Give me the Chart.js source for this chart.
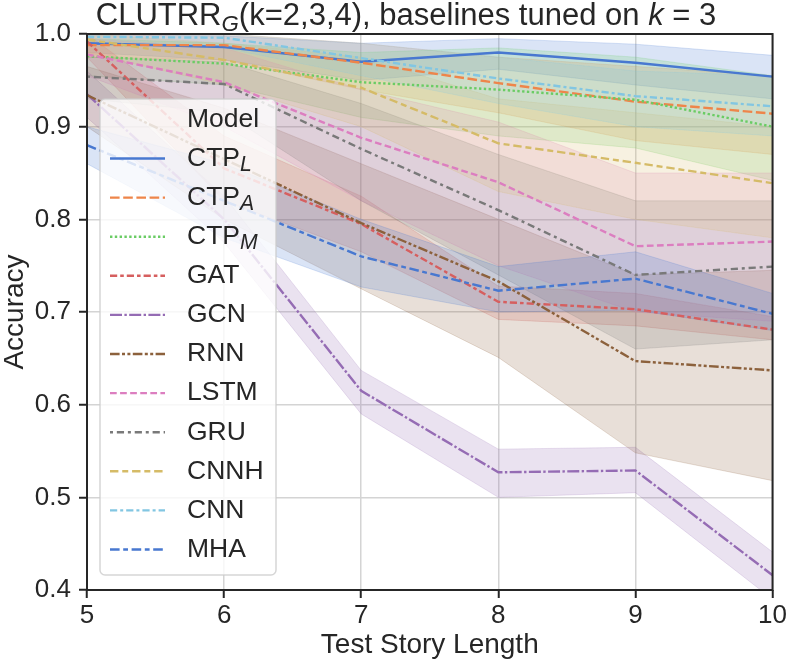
<!DOCTYPE html>
<html>
<head>
<meta charset="utf-8">
<script src="https://cdn.jsdelivr.net/npm/chart.js@4.4.0/dist/chart.umd.min.js"></script>
<style>
html, body { margin: 0; padding: 0; background: #fff; }
canvas { display: block; }
</style>
</head>
<body>
<canvas id="accuracyChart" width="789" height="664"></canvas>
<script>
// test story lengths on the x axis
var storyLength = [5, 6, 7, 8, 9, 10];
var yTicks = [0.4, 0.5, 0.6, 0.7, 0.8, 0.9, 1.0];
var modelLabels = ['CTP_L', 'CTP_A', 'CTP_M', 'GAT', 'GCN', 'RNN', 'LSTM', 'GRU', 'CNNH', 'CNN', 'MHA'];

// mean accuracy and the shaded band (low / high) per model
var ctpLMean = [0.990, 0.986, 0.970, 0.980, 0.969, 0.954];
var ctpLLow  = [0.980, 0.972, 0.950, 0.962, 0.945, 0.930];
var ctpLHigh = [0.999, 0.998, 0.990, 0.995, 0.989, 0.977];

var ctpAMean = [0.988, 0.988, 0.969, 0.947, 0.927, 0.914];
var ctpALow  = [0.975, 0.972, 0.940, 0.915, 0.885, 0.870];
var ctpAHigh = [0.998, 1.000, 0.990, 0.975, 0.965, 0.955];

var ctpMMean = [0.976, 0.968, 0.948, 0.940, 0.929, 0.900];
var ctpMLow  = [0.955, 0.945, 0.910, 0.890, 0.877, 0.842];
var ctpMHigh = [0.995, 0.990, 0.980, 0.985, 0.975, 0.955];

var gatMean = [0.992, 0.855, 0.795, 0.711, 0.703, 0.681];
var gatLow  = [0.975, 0.820, 0.765, 0.692, 0.685, 0.670];
var gatHigh = [1.000, 0.890, 0.825, 0.728, 0.720, 0.695];

var gcnMean = [0.935, 0.800, 0.615, 0.527, 0.529, 0.416];
var gcnLow  = [0.910, 0.775, 0.590, 0.500, 0.505, 0.390];
var gcnHigh = [0.960, 0.825, 0.637, 0.552, 0.554, 0.441];

var rnnMean = [0.934, 0.865, 0.796, 0.733, 0.647, 0.637];
var rnnLow  = [0.900, 0.800, 0.725, 0.651, 0.548, 0.518];
var rnnHigh = [0.965, 0.920, 0.860, 0.800, 0.740, 0.745];

var lstmMean = [0.978, 0.948, 0.888, 0.840, 0.771, 0.776];
var lstmLow  = [0.955, 0.900, 0.820, 0.750, 0.700, 0.690];
var lstmHigh = [0.995, 0.985, 0.940, 0.905, 0.850, 0.850];

var gruMean = [0.954, 0.946, 0.876, 0.810, 0.740, 0.749];
var gruLow  = [0.930, 0.915, 0.820, 0.740, 0.660, 0.670];
var gruHigh = [0.975, 0.970, 0.925, 0.870, 0.820, 0.820];

var cnnhMean = [0.994, 0.972, 0.942, 0.882, 0.861, 0.839];
var cnnhLow  = [0.980, 0.945, 0.900, 0.830, 0.800, 0.780];
var cnnhHigh = [1.000, 0.990, 0.975, 0.930, 0.915, 0.900];

var cnnMean = [0.997, 0.996, 0.974, 0.952, 0.933, 0.922];
var cnnLow  = [0.990, 0.985, 0.955, 0.925, 0.900, 0.890];
var cnnHigh = [1.000, 1.000, 0.990, 0.975, 0.960, 0.955];

var mhaMean = [0.880, 0.820, 0.760, 0.723, 0.736, 0.698];
var mhaLow  = [0.860, 0.780, 0.727, 0.700, 0.702, 0.680];
var mhaHigh = [0.900, 0.860, 0.800, 0.749, 0.765, 0.720];

var series = [
    [ctpLMean, ctpLLow, ctpLHigh],
    [ctpAMean, ctpALow, ctpAHigh],
    [ctpMMean, ctpMLow, ctpMHigh],
    [gatMean, gatLow, gatHigh],
    [gcnMean, gcnLow, gcnHigh],
    [rnnMean, rnnLow, rnnHigh],
    [lstmMean, lstmLow, lstmHigh],
    [gruMean, gruLow, gruHigh],
    [cnnhMean, cnnhLow, cnnhHigh],
    [cnnMean, cnnLow, cnnHigh],
    [mhaMean, mhaLow, mhaHigh]
];

// seaborn "muted" palette, dash patterns given in line widths
var colors = ['#4878d0', '#ee854a', '#6acc64', '#d65f5f', '#956cb4', '#8c613c',
              '#dc7ec0', '#797979', '#d5bb67', '#82c6e2', '#4878d0'];
var dashes = [
    [], [4, 1.5], [1, 1], [3, 1.25, 1.5, 1.25], [5, 1, 1, 1],
    [4, 1, 1.25, 1, 1.25, 1], [2.8, 1.4],
    [1.25, 1.6, 3, 1.6], [3.5, 1.6, 2.5, 1.6],
    [3, 1.25, 1.25, 1.25], [4, 1.5, 2, 1.5]
];

var lineWidth = 2.4;
var fontFamily = '"Liberation Sans", Arial, Helvetica, sans-serif';
var textColor = '#262626';

function rgba(hex, a) {
    var r = parseInt(hex.substr(1, 2), 16);
    var g = parseInt(hex.substr(3, 2), 16);
    var b = parseInt(hex.substr(5, 2), 16);
    return 'rgba(' + r + ',' + g + ',' + b + ',' + a + ')';
}

function toPoints(values) {
    return storyLength.map(function (x, i) {
        return { x: x, y: values[i] };
    });
}

function scaledDash(d) {
    return d.map(function (v) { return v * lineWidth; });
}

var datasets = [];
// bands first so that "+1" points to the matching low edge
for (let i = 0; i < modelLabels.length; i++) {
    datasets.push({
        label: modelLabels[i] + ' high',
        data: toPoints(series[i][2]),
        borderColor: rgba(colors[i], 0.2),
        backgroundColor: rgba(colors[i], 0.2),
        borderWidth: 1,
        pointRadius: 0,
        fill: '+1',
        order: 200 - i
    });
    datasets.push({
        label: modelLabels[i] + ' low',
        data: toPoints(series[i][1]),
        borderColor: rgba(colors[i], 0.2),
        borderWidth: 1,
        pointRadius: 0,
        fill: false,
        order: 200 - i
    });
}
for (let i = 0; i < modelLabels.length; i++) {
    datasets.push({
        label: modelLabels[i],
        data: toPoints(series[i][0]),
        borderColor: colors[i],
        borderWidth: lineWidth,
        borderDash: scaledDash(dashes[i]),
        pointRadius: 0,
        fill: false,
        order: 100 - i,
        isMean: true
    });
}

function drawSubLabel(ctx, text, x, y, size) {
    var parts = text.split('_');
    ctx.font = size + 'px ' + fontFamily;
    ctx.fillText(parts[0], x, y);
    if (parts[1]) {
        var w = ctx.measureText(parts[0]).width;
        ctx.font = 'italic ' + (size * 0.8) + 'px ' + fontFamily;
        ctx.fillText(parts[1], x + w, y + size * 0.25);
    }
}

var framePlugin = {
    id: 'frame',
    afterDatasetsDraw: function (chart) {
        var ctx = chart.ctx;
        var a = chart.chartArea;
        ctx.save();
        ctx.strokeStyle = textColor;
        ctx.lineWidth = 2;
        ctx.strokeRect(a.left, a.top, a.right - a.left, a.bottom - a.top);
        ctx.restore();
    }
};

var titlePlugin = {
    id: 'mathTitle',
    afterDraw: function (chart) {
        var ctx = chart.ctx;
        var size = 31;
        ctx.save();
        ctx.fillStyle = textColor;
        ctx.textBaseline = 'alphabetic';
        ctx.textAlign = 'left';
        var pieces = [
            { t: 'CLUTRR', f: size + 'px ' + fontFamily, dy: 0 },
            { t: 'G', f: 'italic ' + (size * 0.72) + 'px ' + fontFamily, dy: size * 0.2 },
            { t: '(k=2,3,4), baselines tuned on ', f: size + 'px ' + fontFamily, dy: 0 },
            { t: 'k', f: 'italic ' + size + 'px ' + fontFamily, dy: 0 },
            { t: ' = 3', f: size + 'px ' + fontFamily, dy: 0 }
        ];
        var total = 0;
        pieces.forEach(function (p) {
            ctx.font = p.f;
            p.w = ctx.measureText(p.t).width;
            total += p.w;
        });
        var x = 406 - total / 2;
        pieces.forEach(function (p) {
            ctx.font = p.f;
            ctx.fillText(p.t, x, 25 + p.dy);
            x += p.w;
        });
        ctx.restore();
    }
};

var legendPlugin = {
    id: 'boxLegend',
    afterDraw: function (chart) {
        var ctx = chart.ctx;
        var left = 100, top = 99, right = 276, bottom = 575, r = 5;
        ctx.save();
        ctx.beginPath();
        ctx.moveTo(left + r, top);
        ctx.arcTo(right, top, right, bottom, r);
        ctx.arcTo(right, bottom, left, bottom, r);
        ctx.arcTo(left, bottom, left, top, r);
        ctx.arcTo(left, top, right, top, r);
        ctx.closePath();
        ctx.fillStyle = 'rgba(255,255,255,0.8)';
        ctx.fill();
        ctx.strokeStyle = 'rgba(204,204,204,0.8)';
        ctx.lineWidth = 1.5;
        ctx.stroke();

        var size = 26.5;
        ctx.fillStyle = textColor;
        ctx.textBaseline = 'middle';
        ctx.textAlign = 'left';
        ctx.font = size + 'px ' + fontFamily;
        ctx.fillText('Model', 187, 120);

        var means = chart.data.datasets.filter(function (d) { return d.isMean; });
        means.forEach(function (d, i) {
            var y = 158.5 + i * 39.1;
            ctx.beginPath();
            ctx.setLineDash(d.borderDash);
            ctx.strokeStyle = d.borderColor;
            ctx.lineWidth = d.borderWidth;
            ctx.moveTo(110, y);
            ctx.lineTo(165, y);
            ctx.stroke();
            ctx.setLineDash([]);
            ctx.fillStyle = textColor;
            drawSubLabel(ctx, d.label, 187, y, size);
        });
        ctx.restore();
    }
};

const ctx = document.getElementById('accuracyChart');
const accuracyChart = new Chart(ctx, {
    type: 'line',
    data: { datasets: datasets },
    options: {
        responsive: false,
        animation: false,
        layout: { padding: { top: 34, right: 15, bottom: 0, left: 0 } },
        plugins: {
            legend: { display: false },
            tooltip: { enabled: false },
            title: { display: false }
        },
        elements: { line: { tension: 0 } },
        scales: {
            x: {
                type: 'linear',
                min: 5,
                max: 10,
                ticks: {
                    stepSize: 1,
                    color: textColor,
                    padding: 2,
                    font: { family: fontFamily, size: 26 }
                },
                grid: {
                    color: '#d4d4d4',
                    lineWidth: 1.5,
                    tickLength: 8,
                    tickColor: textColor,
                    tickWidth: 2
                },
                border: { display: false },
                title: {
                    display: true,
                    text: 'Test Story Length',
                    color: textColor,
                    padding: { top: 0, bottom: 5 },
                    font: { family: fontFamily, size: 28, lineHeight: 1 }
                },
                afterFit: function (scale) { scale.height = 74; }
            },
            y: {
                type: 'linear',
                min: 0.4,
                max: 1.0,
                afterBuildTicks: function (scale) {
                    scale.ticks = yTicks.map(function (v) { return { value: v }; });
                },
                ticks: {
                    color: textColor,
                    padding: 8,
                    font: { family: fontFamily, size: 26 },
                    callback: function (v) { return Number(v).toFixed(1); }
                },
                grid: {
                    color: '#d4d4d4',
                    lineWidth: 1.5,
                    tickLength: 8,
                    tickColor: textColor,
                    tickWidth: 2
                },
                border: { display: false },
                title: {
                    display: true,
                    text: 'Accuracy',
                    color: textColor,
                    padding: { top: 1, bottom: 0 },
                    font: { family: fontFamily, size: 28, lineHeight: 1 }
                },
                afterFit: function (scale) { scale.width = 87; }
            }
        }
    },
    plugins: [framePlugin, titlePlugin, legendPlugin]
});
</script>
</body>
</html>
